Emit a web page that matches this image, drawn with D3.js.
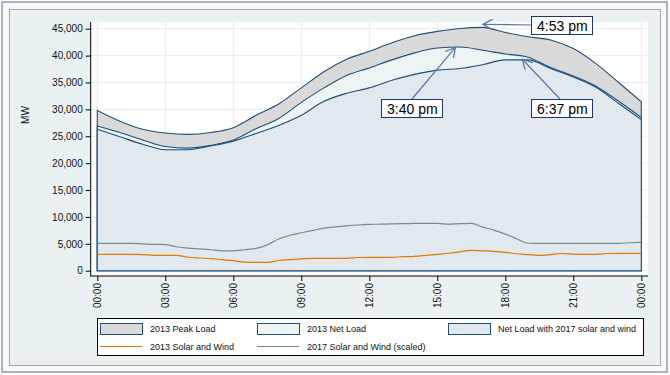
<!DOCTYPE html>
<html>
<head>
<meta charset="utf-8">
<script src="https://cdn.jsdelivr.net/npm/d3@7"></script>
<style>
  body { margin: 0; background: #ffffff; }
  svg text { font-family: "Liberation Sans", Arial, sans-serif; }
</style>
</head>
<body>
<div id="chart"></div>
<script>
// hourly load values (MW)
let hours = d3.range(0, 25);
let peakLoad2013 = [29800, 27800, 26300, 25600, 25350, 25700, 26600, 28900, 31000, 34000, 37000, 39300,
    40800, 42400, 43700, 44500, 45050, 45250, 44300, 43500, 42900, 41300, 38500, 35000, 31400];
let netLoad2013 = [26900, 25700, 24300, 23100, 22800, 23300, 24300, 26400, 28300, 31300, 34000, 36300,
    37700, 39200, 40500, 41400, 41600, 41000, 40300, 39700, 37800, 36200, 34300, 31500, 28500];
let netLoad2017 = [26300, 24900, 23500, 22500, 22500, 23200, 24100, 25500, 27000, 28900, 31500, 33000,
    34000, 35400, 36500, 37300, 37600, 38300, 39200, 39200, 37600, 36000, 34100, 31100, 28100];

// half hourly solar + wind (MW)
let halfHours = d3.range(0, 24.5, 0.5);
let solarWind2013 = [3050, 3050, 3050, 3050, 3000, 2860, 2860, 2860, 2500, 2360, 2250, 2050,
    1860, 1600, 1560, 1560, 1900, 2050, 2200, 2300, 2300, 2300, 2300, 2450,
    2490, 2490, 2490, 2600, 2680, 2860, 3050, 3250, 3500, 3790, 3700, 3600,
    3420, 3150, 3000, 2860, 3000, 3200, 3100, 3050, 3050, 3200, 3230, 3230, 3230];
let solarWind2017 = [5090, 5090, 5090, 5090, 5000, 4900, 4850, 4450, 4200, 4050, 3900, 3700,
    3700, 3900, 4150, 4800, 5900, 6600, 7050, 7500, 7900, 8150, 8350, 8500,
    8600, 8650, 8700, 8750, 8800, 8800, 8800, 8650, 8750, 8800, 8100, 7550,
    6800, 5950, 5100, 5090, 5090, 5090, 5090, 5090, 5090, 5090, 5090, 5200, 5280];

let xTicks = [0, 3, 6, 9, 12, 15, 18, 21, 24];
let xTickLabels = ['00:00', '03:00', '06:00', '09:00', '12:00', '15:00', '18:00', '21:00', '00:00'];
let yTicks = d3.range(0, 45001, 5000);

// annotated peaks: [hour, MW, label] + where the box and arrow start sit
let peaks = [
    { h: 16.88, v: 45250, label: '4:53 pm', bx: 531, by: 16, ax: 531, ay: 25, dx: 3, dy: -3 },
    { h: 15.67, v: 41700, label: '3:40 pm', bx: 381, by: 99, ax: 412, ay: 99, dx: 3, dy: 1 },
    { h: 18.62, v: 39500, label: '6:37 pm', bx: 531, by: 99, ax: 560, ay: 99, dx: 3, dy: 1 }
];

let legendItems = [
    { label: '2013 Peak Load', type: 'box', fill: '#d9d9d9', col: 0, row: 0 },
    { label: '2013 Net Load', type: 'box', fill: '#edf4f4', col: 1, row: 0 },
    { label: 'Net Load with 2017 solar and wind', type: 'box', fill: '#e1e9ef', col: 2, row: 0 },
    { label: '2013 Solar and Wind', type: 'line', color: '#e07b00', col: 0, row: 1 },
    { label: '2017 Solar and Wind (scaled)', type: 'line', color: '#6f8f88', col: 1, row: 1 }
];

let width = 670;
let height = 375;
let strokeBlue = '#1f4e79';

let svg = d3.select('#chart')
    .append('svg')
    .attr('width', width)
    .attr('height', height);

// frames
svg.append('rect')
    .attr('x', 2).attr('y', 2).attr('width', 665).attr('height', 370)
    .attr('fill', '#f6f8fa').attr('stroke', '#a4b4c8').attr('stroke-width', 2);
svg.append('rect')
    .attr('x', 9.5).attr('y', 9.5).attr('width', 651).attr('height', 356)
    .attr('fill', '#e9f1f3').attr('stroke', '#a6a6a6');

// plot background
svg.append('rect')
    .attr('x', 91).attr('y', 22).attr('width', 557).attr('height', 254)
    .attr('fill', '#ffffff');

let x = d3.scaleLinear().domain([0, 24]).range([97.3, 641.3]);
let y = d3.scaleLinear().domain([0, 45000]).range([270.7, 28.7]);

// grid
svg.append('g').selectAll('line')
    .data(xTicks)
    .enter()
    .append('line')
    .attr('x1', d => x(d)).attr('x2', d => x(d))
    .attr('y1', 22).attr('y2', 276)
    .attr('stroke', '#e6edf0');
svg.append('g').selectAll('line')
    .data(yTicks)
    .enter()
    .append('line')
    .attr('x1', 91).attr('x2', 648)
    .attr('y1', d => y(d)).attr('y2', d => y(d))
    .attr('stroke', '#e6edf0');

// areas, drawn biggest first
let area = d3.area()
    .x(d => x(d[0]))
    .y0(y(0))
    .y1(d => y(d[1]))
    .curve(d3.curveMonotoneX);

let areaSeries = [
    { values: peakLoad2013, fill: '#d9d9d9' },
    { values: netLoad2013, fill: '#edf4f4' },
    { values: netLoad2017, fill: '#e1e9ef' }
];

areaSeries.forEach(s => {
    svg.append('path')
        .datum(hours.map((h, i) => [h, s.values[i]]))
        .attr('d', area)
        .attr('fill', s.fill)
        .attr('stroke', strokeBlue)
        .attr('stroke-width', 1.1);
});

// solar + wind lines
let line = d3.line()
    .x(d => x(d[0]))
    .y(d => y(d[1]))
    .curve(d3.curveMonotoneX);

svg.append('path')
    .datum(halfHours.map((h, i) => [h, solarWind2017[i]]))
    .attr('d', line)
    .attr('fill', 'none')
    .attr('stroke', '#6f8f88')
    .attr('stroke-width', 1.2);

svg.append('path')
    .datum(halfHours.map((h, i) => [h, solarWind2013[i]]))
    .attr('d', line)
    .attr('fill', 'none')
    .attr('stroke', '#e07b00')
    .attr('stroke-width', 1.2);

// axes
let yAxis = svg.append('g')
    .attr('transform', 'translate(90.7,0)')
    .call(d3.axisLeft(y).tickValues(yTicks).tickFormat(d3.format(',')).tickSize(5).tickSizeOuter(0));
yAxis.select('.domain').remove();
yAxis.selectAll('text')
    .attr('x', -8)
    .style('font-size', '10px')
    .attr('fill', '#111');

svg.append('line')
    .attr('x1', 90.7).attr('x2', 90.7).attr('y1', 22).attr('y2', 276.5)
    .attr('stroke', '#000');

let xAxis = svg.append('g')
    .attr('transform', 'translate(0,276)')
    .call(d3.axisBottom(x).tickValues(xTicks).tickFormat((d, i) => xTickLabels[i]).tickSize(5).tickSizeOuter(0));
xAxis.select('.domain').remove();
xAxis.selectAll('text')
    .attr('transform', 'rotate(-90)')
    .attr('text-anchor', 'end')
    .attr('x', -7)
    .attr('y', 0)
    .attr('dy', '0.35em')
    .style('font-size', '10px')
    .attr('fill', '#111');

svg.append('line')
    .attr('x1', 90.7).attr('x2', 648).attr('y1', 276).attr('y2', 276)
    .attr('stroke', '#000');

svg.append('text')
    .text('MW')
    .attr('transform', 'translate(29,115) rotate(-90)')
    .attr('text-anchor', 'middle')
    .style('font-size', '10px')
    .attr('fill', '#111');

// annotations
svg.append('defs').append('marker')
    .attr('id', 'arrow')
    .attr('viewBox', '0 0 10 10')
    .attr('refX', 9).attr('refY', 5)
    .attr('markerWidth', 9).attr('markerHeight', 9)
    .attr('orient', 'auto')
    .append('path')
    .attr('d', 'M0,0 L9,5 L0,10')
    .attr('fill', 'none')
    .attr('stroke', '#5b77a0')
    .attr('stroke-width', 1.2);

let notes = svg.selectAll('.note')
    .data(peaks)
    .enter()
    .append('g')
    .attr('class', 'note');

notes.append('line')
    .attr('x1', d => d.ax).attr('y1', d => d.ay)
    .attr('x2', d => x(d.h) + d.dx).attr('y2', d => y(d.v) + d.dy)
    .attr('stroke', '#5b77a0')
    .attr('stroke-width', 1.2)
    .attr('marker-end', 'url(#arrow)');

notes.append('rect')
    .attr('x', d => d.bx + 0.5).attr('y', d => d.by + 0.5)
    .attr('width', 61).attr('height', 18)
    .attr('fill', '#fff')
    .attr('stroke', '#1f3864');

notes.append('text')
    .text(d => d.label)
    .attr('x', d => d.bx + 6)
    .attr('y', d => d.by + 14.5)
    .style('font-size', '14px')
    .attr('fill', '#000');

// legend
svg.append('rect')
    .attr('x', 97.5).attr('y', 318.5).attr('width', 546).attr('height', 37)
    .attr('fill', '#fff').attr('stroke', '#000');

let colX = [100, 257, 448];
let rowY = [329, 346.5];

let leg = svg.selectAll('.leg')
    .data(legendItems)
    .enter()
    .append('g')
    .attr('class', 'leg')
    .attr('transform', d => `translate(${colX[d.col]},${rowY[d.row]})`);

leg.filter(d => d.type === 'box')
    .append('rect')
    .attr('x', 0.5).attr('y', -5.5).attr('width', 42).attr('height', 11)
    .attr('fill', d => d.fill)
    .attr('stroke', strokeBlue);

leg.filter(d => d.type === 'line')
    .append('line')
    .attr('x1', 0).attr('x2', 42).attr('y1', 0).attr('y2', 0)
    .attr('stroke', d => d.color)
    .attr('stroke-width', 1.2);

leg.append('text')
    .text(d => d.label)
    .attr('x', 50)
    .attr('dy', '0.35em')
    .style('font-size', '9px')
    .attr('fill', '#111');
</script>
</body>
</html>
